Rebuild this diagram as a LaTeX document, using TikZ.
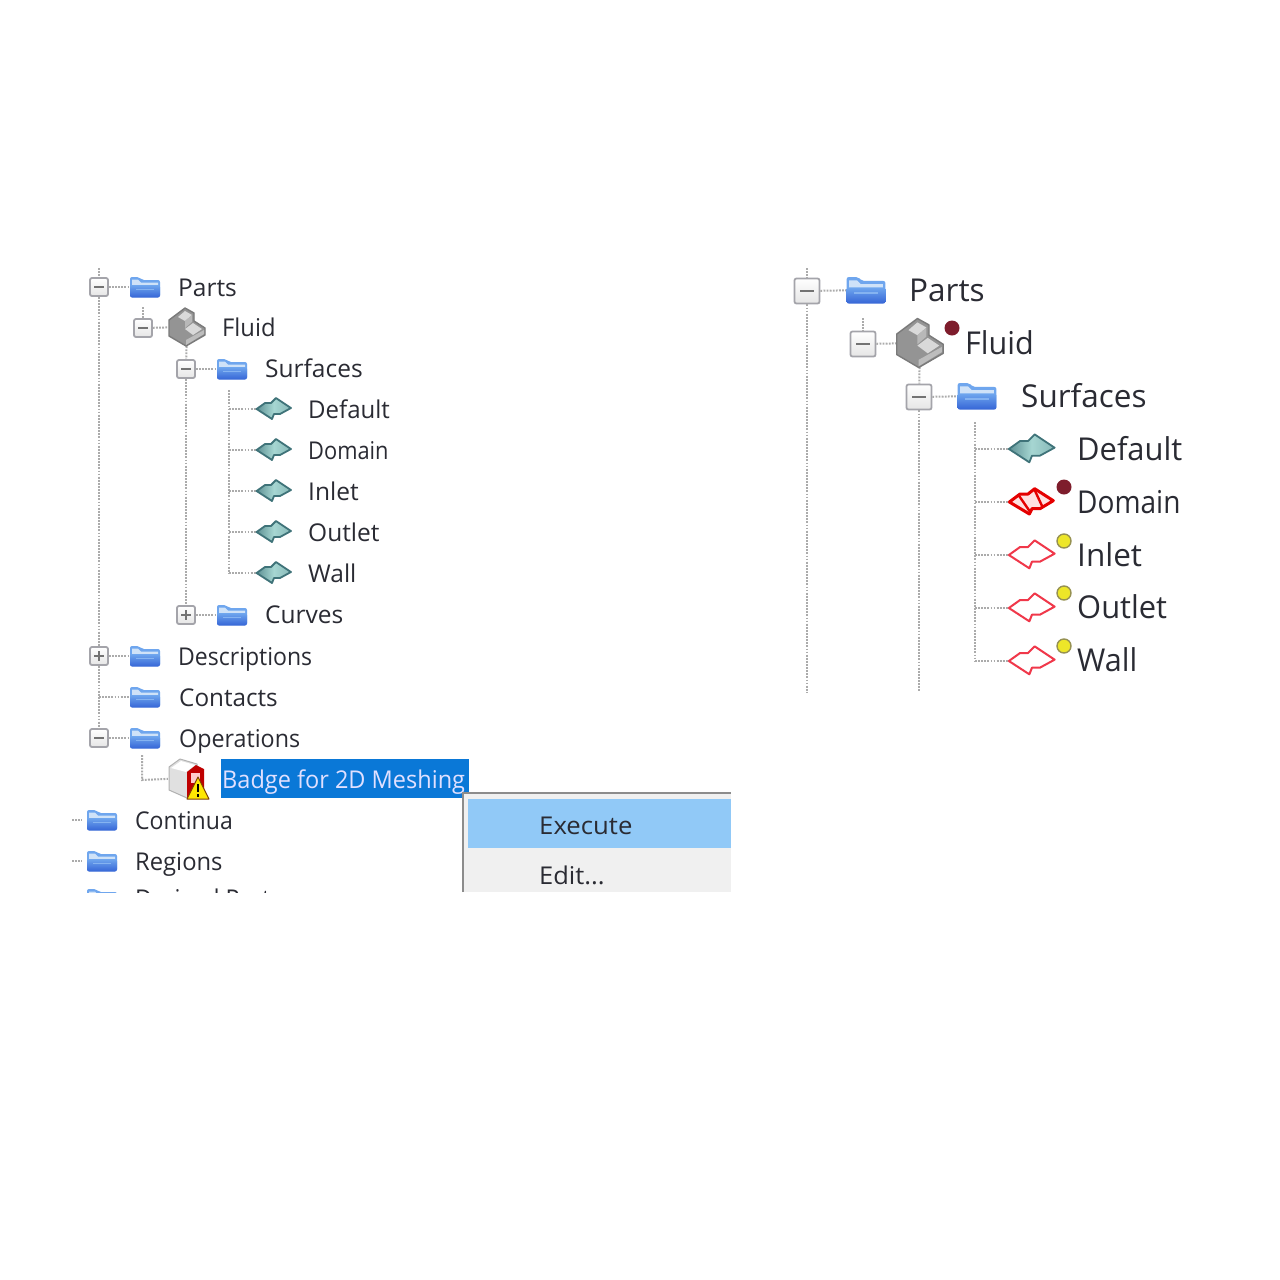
\documentclass[tikz,border=0pt]{standalone}
\usepackage{fontspec}
\setmainfont{Open Sans}
\usetikzlibrary{calc}
\definecolor{ink}{HTML}{2A2B33}
\definecolor{treeg}{HTML}{ABABAB}
\definecolor{boxg}{HTML}{A4A4AA}
\definecolor{tealA}{HTML}{A6D6D2}
\definecolor{tealB}{HTML}{3F7379}
\definecolor{redl}{HTML}{F0384A}
\definecolor{darkdot}{HTML}{7E1D2C}
\definecolor{yel}{HTML}{EDE629}
\definecolor{selblue}{HTML}{0A78D7}
\definecolor{menubg}{HTML}{F0F0F0}
\definecolor{menusel}{HTML}{91C9F7}
\definecolor{foldA}{HTML}{3565D6}
\definecolor{foldB}{HTML}{6FA6EE}
\definecolor{foldC}{HTML}{CFE2F8}
\newcommand{\nw}[2]{\scalebox{#1}[1]{#2}}
\tikzset{
  x=1pt,y=-1pt,
  tree/.style={draw=treeg,line width=2pt,dash pattern=on 1.8pt off 1.3pt},
  lab/.style={anchor=base west,inner sep=0pt,text=ink,font=\fontsize{24.5}{28}\selectfont},
  labB/.style={anchor=base west,inner sep=0pt,text=ink,font=\fontsize{31.5}{36}\selectfont},
  xbox/.style={draw=boxg,line width=1.8pt,rounded corners=2pt,top color=white,bottom color=black!10,inner sep=0pt},
  xs/.style={xbox,minimum size=18pt},
  xb/.style={xbox,minimum size=25pt},
  sign/.style={draw=black!55,line width=1.6pt},
  spot/.style={inner sep=0pt,minimum size=#1,draw=none},
  dot/.style={circle,inner sep=0pt,minimum size=15pt},
  pics/folder/.style={code={
    \fill[rounded corners=2pt,fill=foldB] (-15,10)--(-15,-10)--(-6,-10)--(-3,-7)--(15,-7)--(15,10)--cycle;
    \fill[fill=foldC] (-13,-7.5)--(-7,-7.5)--(-4,-4.5)--(13,-4.5)--(13,0)--(-13,0)--cycle;
    \shade[rounded corners=2pt,top color=foldB,bottom color=foldA] (-15,-2)--(15,-2)--(15,10.5)--(-15,10.5)--cycle;
    \fill[fill=foldB!85!white] (-9,1.5)--(9,1.5)--(9,3)--(-9,3)--cycle;
  }},
  pics/surf/.style={code={
    \shade[left color=tealB!70!tealA,right color=tealA!70!tealB,middle color=tealA,draw=tealB,line width=1.8pt,line join=round]
      (-17.4,0)--(-9,-6)--(-3,-6)--(2,-11)--(17,-1)--(6,5)--(0,5)--(-2,10)--cycle;
  }},
  pics/surfred/.style={code={
    \draw[draw=redl,fill=white,line width=2pt,line join=round]
      (-17.4,0)--(-9,-6)--(-3,-6)--(2,-11)--(17,-1)--(6,5)--(0,5)--(-2,10)--cycle;
  }},
  pics/surfdom/.style={code={
    \draw[draw=red!90!black,fill=red!12!white,line width=3pt,line join=round]
      (-17,0)--(-9,-6)--(-3,-6)--(2,-10)--(16,-1)--(6,5)--(0,5)--(-2,9)--cycle;
    \draw[red!90!black,line width=2.4pt] (-10,-5)--(-1,8) (2,-9)--(8,4);
  }},
  pics/stair/.style={code={
    \fill[fill=black!42,draw=black!52,line width=1.4pt,line join=round]
      (-18,-7)--(-2,-19)--(7,-14)--(7,-6)--(18,1)--(18,8)--(-1,19)--(-18,9)--cycle;
    \fill[black!15] (-9,-10)--(-2,-16)--(5,-12)--(-2,-6)--cycle;
    \fill[black!28] (-2,-6)--(5,-12)--(5,-5)--(-2,1)--cycle;
    \fill[black!15] (-2,2)--(6,-4)--(15,2)--(6,8)--cycle;
    \fill[black!26] (-1,18)--(17,7)--(17,3)--(-1,13)--cycle;
  }},
  pics/badge/.style={code={
    \fill[black!12,draw=black!30,line width=1pt,line join=round] (-18,-11)--(-7,-19)--(10,-14)--(10,12)--(0,20)--(-18,12)--cycle;
    \fill[white] (-16,-10)--(-6,-17)--(8,-13)--(-1,-6)--cycle;
    \fill[red!75!black] (0,-6)--(9,-13)--(17,-9)--(17,15)--(0,20)--cycle;
    \fill[red!20!white] (4,-5) rectangle (13,5);
    \fill[yellow!90!orange,draw=black!50!orange,line width=1pt,line join=round] (0,21)--(22,21)--(11,-1)--cycle;
    \draw[black,line width=2.2pt] (11,6)--(11,14);
    \fill[black] (9.7,15.5) rectangle (12.3,18.5);
  }},
}
\begin{document}
\begin{tikzpicture}
\useasboundingbox (0,0) rectangle (1280,1280);
\fill[white] (0,0) rectangle (1280,1280);

% ---------- left tree ----------
\coordinate (ltop) at (99,268);
\node[xs] (bParts) at (99,287) {};
\node[xs] (bFluid) at (143,328) {};
\node[xs] (bSurf) at (186,369) {};
\node[xs] (bCurves) at (186,615) {};
\node[xs] (bDesc) at (99,656) {};
\node[xs] (bOps) at (99,738) {};
\foreach \b in {bParts,bFluid,bSurf,bCurves,bDesc,bOps}
  \draw[sign] (\b.center) ++(-5,0) -- ++(10,0);
\foreach \b in {bCurves,bDesc}
  \draw[sign] (\b.center) ++(0,-5) -- ++(0,10);

\node[spot=24pt] (fParts) at (145,287) {};
\node[spot=38pt] (sFluid) at (187,327) {};
\node[spot=24pt] (fSurf) at (232,369) {};
\node[spot=24pt] (fCurves) at (232,615) {};
\node[spot=24pt] (fDesc) at (145,656) {};
\node[spot=24pt] (fCont) at (145,697) {};
\node[spot=24pt] (fOps) at (145,738) {};
\node[spot=38pt] (iBadge) at (187,778) {};
\node[spot=24pt] (fConti) at (102,820) {};
\node[spot=24pt] (fReg) at (102,861) {};

\coordinate (jSurf) at (229,390);
\coordinate (jContacts) at (99,697);
\coordinate (jBadgeTop) at (142,755);
\coordinate (jBadge) at (142,780);
\coordinate (jFluidTop) at (143,307);
\coordinate (tConti) at (72,820);
\coordinate (tReg) at (72,861);
\foreach \n/\w/\y in {Default/0.98/409,Domain/0.89/450,Inlet/1/491,Outlet/1/532,Wall/1/573}{
  \coordinate (j\n) at (229,\y);
  \node[spot=36pt] (s\n) at (274,\y) {};
  \draw[tree] (j\n) -- (s\n);
  \pic at (s\n) {surf};
  \node[lab] (t\n) at (308,\y+9) {\nw{\w}{\n}};
}
\draw[tree] (ltop) -- (bParts);
\draw[tree] (bParts) -- (bDesc);
\draw[tree] (bDesc) -- (bOps);
\draw[tree] (jContacts) -- (fCont);
\draw[tree] (bParts) -- (fParts);
\draw[tree] (jFluidTop) -- (bFluid);
\draw[tree] (bFluid) -- (sFluid);
\draw[tree] (sFluid) -- (bSurf);
\draw[tree] (bSurf) -- (fSurf);
\draw[tree] (bSurf) -- (bCurves);
\draw[tree] (bCurves) -- (fCurves);
\draw[tree] (bDesc) -- (fDesc);
\draw[tree] (bOps) -- (fOps);
\draw[tree] (jSurf) -- (jWall);
\draw[tree] (jBadgeTop) -- (jBadge) -- (iBadge);
\draw[tree] (tConti) -- ++(10,0);
\draw[tree] (tReg) -- ++(10,0);

\foreach \f in {fParts,fSurf,fCurves,fDesc,fCont,fOps,fConti,fReg}
  \pic at (\f) {folder};
\pic at (sFluid) {stair};

\node[lab] (tParts) at (178,296) {Parts};
\node[lab] (tFluid) at (222,336) {\nw{0.97}{Fluid}};
\node[lab] (tSurf) at (265,377) {Surfaces};
\node[lab] (tCurves) at (265,623) {Curves};
\node[lab] (tDesc) at (178,665) {\nw{0.94}{Descriptions}};
\node[lab] (tCont) at (179,706) {\nw{0.99}{Contacts}};
\node[lab] (tOps) at (179,747) {\nw{0.95}{Operations}};
\node[lab] (tConti) at (135,829) {\nw{0.94}{Continua}};
\node[lab] (tReg) at (135,870) {\nw{0.97}{Regions}};

% selected item
\node[anchor=west,inner sep=0pt,minimum width=248pt,minimum height=39pt,fill=selblue] (sel) at (221,778.5) {};
\pic at (iBadge) {badge};
\node[lab,text=blue!12!white] (tBadge) at (222,788) {\nw{0.96}{Badge for 2D Meshing}};

% clipped last row
\begin{scope}
  \clip (60,880) rectangle (462,892.5);
  \node[spot=24pt] (fDer) at (102,899) {};
  \pic at (fDer) {folder};
  \node[lab] (tDer) at (135,907) {\nw{0.95}{Derived Parts}};
\end{scope}

% context menu
\fill[menubg] (462,792) rectangle (731,892);
\draw[black!45,line width=2pt] (463,892) -- (463,793) -- (731,793);
\node[anchor=west,inner sep=0pt,minimum width=263pt,minimum height=49pt,fill=menusel] (mExec) at (468,823.5) {};
\node[lab] (tExec) at (539,834) {\nw{1.05}{Execute}};
\node[lab] (tEdit) at (539,884) {\nw{1.04}{Edit...}};

% ---------- right tree ----------
\coordinate (rtop) at (807,268);
\coordinate (rbot1) at (807,692);
\coordinate (rbot2) at (919,692);
\coordinate (rFluidTop) at (863,318);
\coordinate (rjTop) at (975,422);
\node[xb] (rbParts) at (807,291) {};
\node[xb] (rbFluid) at (863,344) {};
\node[xb] (rbSurf) at (919,397) {};
\foreach \b in {rbParts,rbFluid,rbSurf}
  \draw[sign] (\b.center) ++(-7,0) -- ++(14,0);
\node[spot=32pt] (rfParts) at (866,290) {};
\node[spot=48pt] (rsFluid) at (920,343) {};
\node[spot=32pt] (rfSurf) at (977,396) {};
\foreach \n/\y in {Default/449,Domain/502,Inlet/555,Outlet/608,Wall/661}{
  \coordinate (rj\n) at (975,\y);
  \node[spot=46pt] (rs\n) at (1032,\y) {};
  \draw[tree] (rj\n) -- (rs\n);
}
\draw[tree] (rtop) -- (rbParts);
\draw[tree] (rbParts) -- (rbot1);
\draw[tree] (rbParts) -- (rfParts);
\draw[tree] (rFluidTop) -- (rbFluid);
\draw[tree] (rbFluid) -- (rsFluid);
\draw[tree] (rsFluid) -- (rbSurf);
\draw[tree] (rbSurf) -- (rfSurf);
\draw[tree] (rbSurf) -- (rbot2);
\draw[tree] (rjTop) -- (rjWall);
\pic[scale=1.29] at (rfParts) {folder};
\pic[scale=1.29] at (rfSurf) {folder};
\pic[scale=1.29] at (rsFluid) {stair};
\pic[scale=1.33] at (rsDefault) {surf};
\pic[scale=1.33] at (rsDomain) {surfdom};
\pic[scale=1.33] at (rsInlet) {surfred};
\pic[scale=1.33] at (rsOutlet) {surfred};
\pic[scale=1.33] at (rsWall) {surfred};
\node[dot,fill=darkdot] (dFluid) at (952,328) {};
\node[dot,fill=darkdot] (dDomain) at (1064,487) {};
\node[dot,fill=yel,draw=black!35!olive!70!white,line width=1.4pt,minimum size=14pt] (dInlet) at (1064,541) {};
\node[dot,fill=yel,draw=black!35!olive!70!white,line width=1.4pt,minimum size=14pt] (dOutlet) at (1064,593) {};
\node[dot,fill=yel,draw=black!35!olive!70!white,line width=1.4pt,minimum size=14pt] (dWall) at (1064,646) {};
\node[labB] (rtParts) at (909,301.5) {Parts};
\node[labB] (rtFluid) at (965,354.5) {\nw{0.97}{Fluid}};
\node[labB] (rtSurf) at (1021,407.5) {Surfaces};
\node[labB] (rtDefault) at (1077,460.5) {\nw{0.98}{Default}};
\node[labB] (rtDomain) at (1077,513.5) {\nw{0.89}{Domain}};
\node[labB] (rtInlet) at (1077,566.5) {Inlet};
\node[labB] (rtOutlet) at (1077,618.5) {\nw{0.98}{Outlet}};
\node[labB] (rtWall) at (1077,671.5) {\nw{0.97}{Wall}};
\end{tikzpicture}
\end{document}
